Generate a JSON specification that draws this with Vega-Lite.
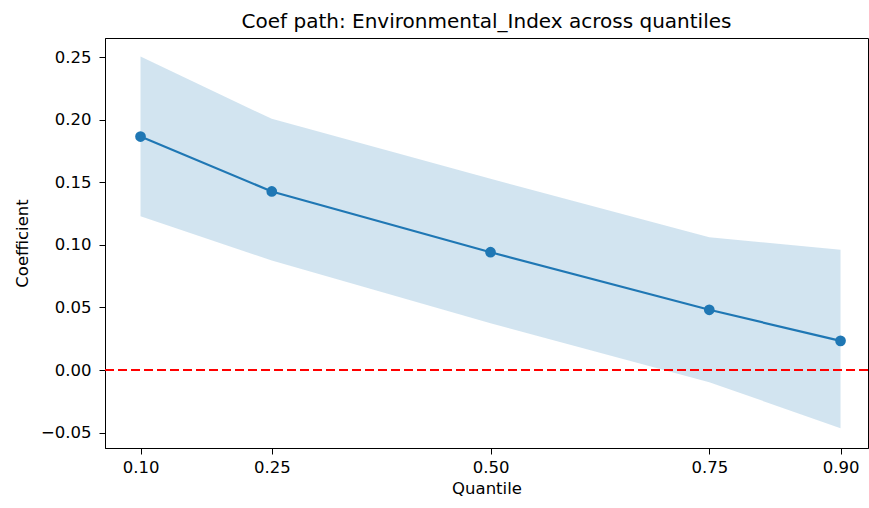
{
  "$schema": "https://vega.github.io/schema/vega-lite/v6.json",
  "autosize": "none",
  "width": 763,
  "height": 410,
  "padding": {"left": 105, "top": 38, "right": 1, "bottom": 60},
  "background": "white",
  "config": {
    "font": "DejaVu Sans",
    "view": {"stroke": "#000", "strokeWidth": 1},
    "axis": {
      "grid": false,
      "domainColor": "#000",
      "tickColor": "#000",
      "labelColor": "#000",
      "titleColor": "#000",
      "labelFontSize": 16.5,
      "titleFontSize": 16.5,
      "titleFontWeight": "normal",
      "tickSize": 6,
      "labelPadding": 4,
      "labelFont": "DejaVu Sans",
      "titleFont": "DejaVu Sans"
    }
  },
  "title": {
    "text": "Coef path: Environmental_Index across quantiles",
    "fontSize": 20,
    "fontWeight": "normal",
    "font": "DejaVu Sans",
    "color": "#000",
    "offset": 6
  },
  "datasets": {
    "coef": [
      {"q": 0.10, "coef": 0.1865, "lower": 0.1228, "upper": 0.2504},
      {"q": 0.25, "coef": 0.1426, "lower": 0.0875, "upper": 0.2006},
      {"q": 0.50, "coef": 0.0941, "lower": 0.0374, "upper": 0.1527},
      {"q": 0.75, "coef": 0.0481, "lower": -0.0097, "upper": 0.1061},
      {"q": 0.90, "coef": 0.0233, "lower": -0.0465, "upper": 0.0960}
    ],
    "zero": [{"y": 0}]
  },
  "layer": [
    {
      "data": {"name": "coef"},
      "mark": {"type": "area", "color": "#1f77b4", "opacity": 0.2},
      "encoding": {
        "x": {
          "field": "q", "type": "quantitative",
          "scale": {"domain": [0.0594, 0.9314], "nice": false, "zero": false},
          "axis": {"values": [0.1, 0.25, 0.5, 0.75, 0.9], "format": ".2f", "title": "Quantile", "labelPadding": 5, "titlePadding": 5}
        },
        "y": {
          "field": "lower", "type": "quantitative",
          "scale": {"domain": [-0.0623, 0.2652], "nice": false, "zero": false},
          "axis": {"values": [-0.05, 0, 0.05, 0.1, 0.15, 0.2, 0.25], "format": ".2f", "title": "Coefficient", "labelPadding": 8, "titlePadding": 10}
        },
        "y2": {"field": "upper"}
      }
    },
    {
      "data": {"name": "coef"},
      "mark": {"type": "line", "color": "#1f77b4", "strokeWidth": 2.2},
      "encoding": {
        "x": {"field": "q", "type": "quantitative"},
        "y": {"field": "coef", "type": "quantitative"}
      }
    },
    {
      "data": {"name": "coef"},
      "mark": {"type": "point", "filled": true, "color": "#1f77b4", "opacity": 1, "size": 115},
      "encoding": {
        "x": {"field": "q", "type": "quantitative"},
        "y": {"field": "coef", "type": "quantitative"}
      }
    },
    {
      "data": {"name": "zero"},
      "mark": {"type": "rule", "color": "#ff0000", "strokeWidth": 2, "strokeDash": [9, 4]},
      "encoding": {
        "y": {"field": "y", "type": "quantitative"}
      }
    }
  ]
}
